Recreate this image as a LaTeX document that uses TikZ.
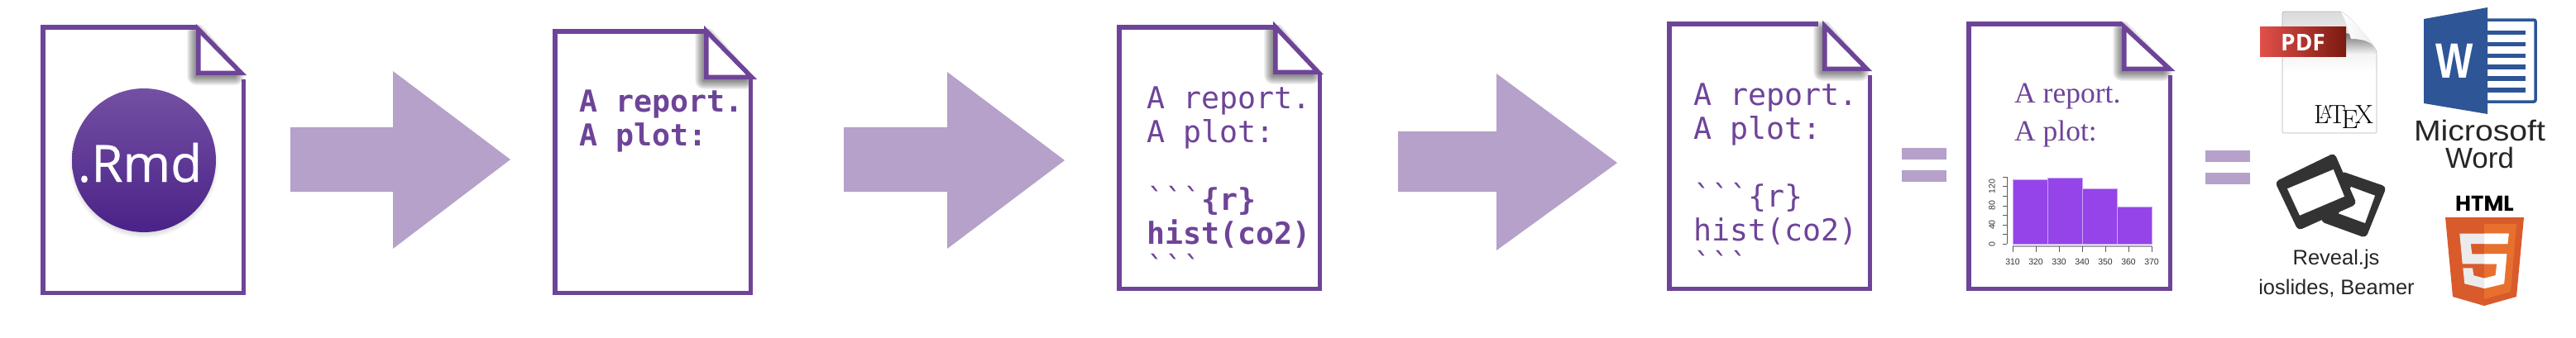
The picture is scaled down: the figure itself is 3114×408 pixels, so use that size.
\documentclass[tikz,border=0pt]{standalone}
\usepackage{xcolor}
\usepackage{fontspec}
\usepackage{tikz}
\setsansfont{Liberation Sans}
\newfontfamily\codefont{DejaVu Sans Mono}
\newfontfamily\timesfont{Liberation Serif}
\newfontfamily\badgefont[FakeBold=0.5]{Open Sans}
\newfontfamily\pdffont{Open Sans}
\newfontfamily\heavyfont{Poppins}
\definecolor{docPurple}{HTML}{6E4498}
\definecolor{flowPurple}{HTML}{B5A1C9}
\definecolor{badgeTop}{HTML}{7450A3}
\definecolor{badgeBottom}{HTML}{4A2288}
\definecolor{barPurple}{HTML}{9444E8}
\definecolor{barEdge}{HTML}{C9A6F5}
\definecolor{pdfLeft}{HTML}{E2504A}
\definecolor{pdfRight}{HTML}{7A1A10}
\definecolor{wordBlue}{HTML}{2E5596}
\definecolor{htmlDark}{HTML}{D95A2B}
\definecolor{htmlLight}{HTML}{E8702E}
\newcommand{\fiveshape}{(2973.3,282.7) -- (3032.7,282.7) -- (3031.3,295) -- (2986.7,295)
    -- (2988.3,307.3) -- (3030.3,307.3) -- (3027,343.3) -- (3003.3,349) -- (2979.3,343.3)
    -- (2977.3,324.3) -- (2989,324.3) -- (2990.3,333.3) -- (3003.3,336.7) -- (3016.7,333.3)
    -- (3018.3,319.3) -- (2976.7,319.3) -- cycle}

\begin{document}
\begin{tikzpicture}[
    x=1pt, y=-1pt,
    docline/.style={draw=docPurple, line width=5.5pt},
    flowarrow/.style={fill=flowPurple},
    codetext/.style={anchor=north west, inner sep=0pt, align=left, text=docPurple,
                     font=\codefont\fontsize{36.6}{41}\selectfont},
    axisline/.style={draw=black!65, line width=0.8pt},
    ticklabel/.style={inner sep=0pt, text=black!80, font=\sffamily\fontsize{10.5}{12}\selectfont},
    iconlabel/.style={inner sep=0pt, anchor=base, text=black!85, font=\sffamily\fontsize{25.5}{30}\selectfont},
    wordlabel/.style={inner sep=0pt, anchor=base, text=black!85, font=\sffamily\fontsize{35}{38}\selectfont},
]
\path[use as bounding box] (0,0) rectangle (3114,408);

% Pages
\foreach \xl/\yt/\xr/\yb/\fx/\fy/\tx/\ay/\gx/\gy in {
    49/30/297/357/237/91/298/29/238/96,
    668/35/910/357/851/96/915/31/851/96,
    1350/30/1598/352/1539/90/1600/26/1539/90,
    2015/26/2263/352/2203/86/2263/25/2198/91,
    2377/26/2626/352/2565/86/2629/26/2565/91} {
    \begin{scope}
    \clip (\xl,\yt) rectangle (\xr,\yb);
    \foreach \w in {2,4,...,22}
        \draw[black, opacity=.05, line width=\w pt, line join=round]
            (\fx,\fy+1) -- (\fx,\ay+10) -- (\tx-14,\fy+1) -- cycle;
    \end{scope}
    \draw[docline] (\gx,\yt+2.75) -- (\xl+2.75,\yt+2.75) -- (\xl+2.75,\yb-2.75)
        -- (\xr-2.75,\yb-2.75) -- (\xr-2.75,\gy);
    \draw[docline, fill=white] (\fx+2.75,\fy-2.75) -- (\fx+2.75,\ay+6.5)
        -- (\tx-6.5,\fy-2.75) -- cycle;
}

% Arrows
\foreach \xa/\xb/\xc/\ya/\yb/\yc/\yd/\ye in {
    351/475/617/154/232/86/301/193,
    1020/1145/1287/154/232/87/301/194,
    1690/1809/1955/159/232/89/303/197}
    \fill[flowarrow] (\xa,\ya) -- (\xb,\ya) -- (\xb,\yc) -- (\xc,\ye) -- (\xb,\yd)
        -- (\xb,\yb) -- (\xa,\yb) -- cycle;

% Rmd badge
\foreach \w in {2,4,...,12}
    \draw[black, opacity=.02, line width=\w pt] (174,198) circle (84);
\node[circle, inner sep=0pt, minimum size=174pt, top color=badgeTop,
      bottom color=badgeBottom] (rmdbadge) at (174,194) {};
\node[anchor=base, inner sep=0pt, text=white, font=\badgefont\fontsize{62}{62}\selectfont]
    (rmdtext) at (169,220) {.Rmd};

% Text of the pages
\node[codetext, font=\codefont\bfseries\fontsize{36.6}{41}\selectfont] (knitted) at (700,109)
    {A report.\\A plot:};
\node[codetext] (chunkbold) at (1386,105)
    {A report.\\A plot:\\[41pt]```{\bfseries\{r\}}\\{\bfseries hist(co2)}\\```};
\node[codetext] (chunkplain) at (2047,101)
    {A report.\\A plot:\\[41pt]```\{r\}\\hist(co2)\\```};
\node[anchor=north west, inner sep=0pt, align=left, text=docPurple,
      font=\timesfont\fontsize{35.5}{46}\selectfont] (rendered) at (2435,101)
    {A report.\\A plot:};

% Equals
\foreach \xa/\xb/\ya in {2299/2353/179, 2299/2353/206, 2666/2720/182, 2666/2720/209}
    \fill[flowarrow] (\xa,\ya) rectangle (\xb,\ya+14);

% Histogram
\foreach \xa/\xb/\yt in {2433/2475/217, 2475/2517/215, 2517/2559/228, 2559/2601/250}
    \draw[fill=barPurple, draw=barEdge, line width=0.8pt] (\xa,295) rectangle (\xb,\yt);
\draw[axisline] (2426,214) -- (2426,295.3);
\foreach \k in {0,...,7}
    \draw[axisline] (2426,295.3-11.6*\k) -- (2421,295.3-11.6*\k);
\foreach \lab/\k in {0/0, 40/2, 80/4, 120/6}
    \node[ticklabel, rotate=90] (ylab\lab) at (2408,295.3-11.6*\k) {\lab};
\draw[axisline, draw=black!35, line width=1.4pt] (2433,298) -- (2601,298);
\foreach \lab/\k in {310/0, 320/1, 330/2, 340/3, 350/4, 360/5, 370/6} {
    \draw[axisline] (2433+28*\k,298) -- (2433+28*\k,305);
    \node[ticklabel] (xlab\lab) at (2433+28*\k,317) {\lab};
}

% PDF icon
\draw[draw=black!30, line width=0.6pt, top color=black!14, bottom color=white, middle color=white,
      rounded corners=2pt]
    (2759,14) -- (2830,14) .. controls (2845,24) and (2860,42) .. (2873,62) -- (2873,161)
    -- (2759,161) -- cycle;
\shade[top color=black!55, bottom color=black!3] (2836,40) -- (2866,50) -- (2873,66) -- (2836,66) -- cycle;
\shade[left color=white, right color=black!8] (2830,14) .. controls (2838,30) and (2840,42) .. (2842,47)
    .. controls (2855,47) and (2866,50) .. (2872,58) .. controls (2860,40) and (2845,24) .. (2830,14);
\node[left color=pdfLeft, right color=pdfRight, minimum width=104pt,
      minimum height=36pt, inner sep=0pt] (pdfbox) at (2784,50) {};
\node[anchor=base, inner sep=0pt, text=white, font=\pdffont\bfseries\fontsize{28}{28}\selectfont]
    (pdftext) at (2784,61) {PDF};
\node[anchor=base, inner sep=0pt, font=\fontsize{32}{32}\selectfont] (latexlogo) at (2833,149) {\LaTeX};

% Word icon
\draw[draw=wordBlue, line width=3.5pt, rounded corners=2pt, fill=white] (3000,24) rectangle (3065,123);
\foreach \y in {39.3,53.3,67.3,81,95,109}
    \fill[wordBlue] (3005,\y-2.7) rectangle (3053,\y+2.7);
\fill[wordBlue] (2930,23) -- (3007,9) -- (3007,138) -- (2930,125) -- cycle;
\node[xscale=.8, inner sep=0pt, text=white, font=\sffamily\bfseries\fontsize{60}{60}\selectfont]
    (wordletter) at (2967,73.5) {W};
\node[wordlabel, xscale=1.12] (wordname) at (2997.5,170) {Microsoft};
\node[wordlabel] (wordnameb) at (2997.5,203) {Word};

% Reveal icon
\fill[black!80, rounded corners=5pt] (2830,207) -- (2885,226) -- (2860,288) -- (2805,268) -- cycle;
\fill[white] (2842,226) -- (2871,236.7) -- (2859,270) -- (2827,258.3) -- cycle;
\fill[black!80, rounded corners=5pt] (2750,220) -- (2822,185) -- (2849,247) -- (2778,279) -- cycle;
\fill[white] (2765,228.3) -- (2820.7,205) -- (2834,237.7) -- (2780,260.7) -- cycle;
\node[iconlabel] (revealname) at (2824,320) {Reveal.js};
\node[iconlabel] (slidesname) at (2824.5,356) {ioslides, Beamer};

% HTML5 icon
\node[anchor=base, inner sep=0pt, font=\heavyfont\bfseries\fontsize{26}{26}\selectfont]
    (htmltext) at (3003.5,255) {HTML};
\fill[htmlDark] (2956,263) -- (3051,263) -- (3042,359) -- (3003,370) -- (2965,359) -- cycle;
\fill[htmlLight] (3003,271) -- (3042,271) -- (3035,353) -- (3003,362) -- cycle;
\fill[black!8] \fiveshape;
\begin{scope}
\clip (3003.3,270) rectangle (3060,360);
\fill[white] \fiveshape;
\end{scope}
\end{tikzpicture}
\end{document}
